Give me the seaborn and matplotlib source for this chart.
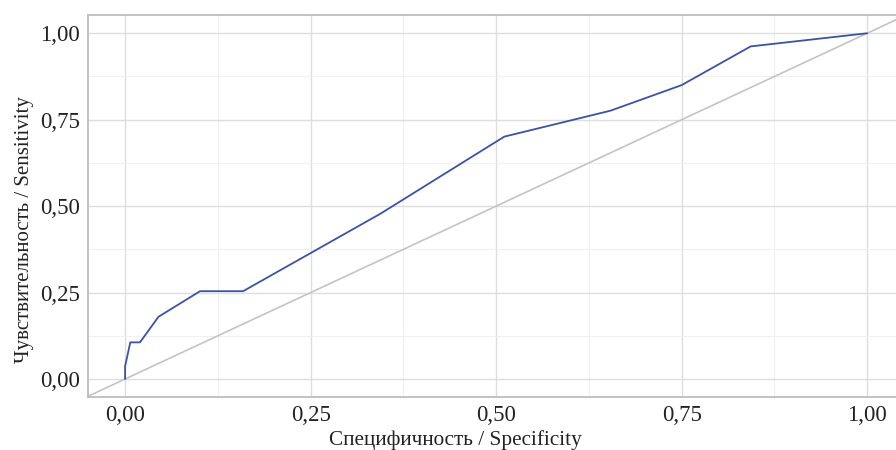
#ROC curve redrawn from the reference picture
import numpy as np
import pandas as pd
import matplotlib
matplotlib.use("Agg")
import matplotlib.pyplot as plt
import seaborn as sns

#Values (1 - specificity on x, sensitivity on y)
fpr = [0.0, 0.0, 0.007, 0.020, 0.045, 0.101, 0.159, 0.344, 0.511, 0.654, 0.750, 0.843, 1.0]
tpr = [0.0, 0.037, 0.106, 0.106, 0.180, 0.254, 0.254, 0.478, 0.701, 0.776, 0.850, 0.962, 1.0]
ticks = [0.0, 0.25, 0.5, 0.75, 1.0]
tick_labels = ["0,00", "0,25", "0,50", "0,75", "1,00"]

df = pd.DataFrame({"fpr": fpr, "tpr": tpr})

sns.set_style("white")
plt.rcParams['font.family'] = ['Liberation Serif', 'DejaVu Serif']

fig = plt.figure(figsize=(8.96, 4.5), dpi=100)
ax = fig.add_axes([0.0982, 0.1178, 0.911, 0.849])

#grid: major and minor
ax.set_xticks(ticks)
ax.set_yticks(ticks)
ax.set_xticks([0.125, 0.375, 0.625, 0.875], minor=True)
ax.set_yticks([0.125, 0.375, 0.625, 0.875], minor=True)
ax.grid(which="major", color="#dedede", linewidth=1.0)
ax.grid(which="minor", color="#f0f0f0", linewidth=0.8)
ax.set_axisbelow(True)

#diagonal reference
ax.axline((0, 0), (1, 1), color="#c4c4c4", linewidth=1.2, zorder=2)

sns.lineplot(data=df, x="fpr", y="tpr", sort=False, estimator=None,
             color="#3a53a8", linewidth=1.3, ax=ax, zorder=3)

ax.set_xlim(-0.05, 1.05)
ax.set_ylim(-0.052, 1.053)
ax.set_xticklabels(tick_labels)
ax.set_yticklabels(tick_labels)
ax.tick_params(which="major", length=4, color="#bdbdbd", labelsize=16.5, labelcolor="#222222", pad=2)
ax.tick_params(which="minor", length=0)

for side in ["left", "bottom", "top", "right"]:
    ax.spines[side].set_color("#bdbdbd")
    ax.spines[side].set_linewidth(1.3)

ax.set_xlabel("Специфичность / Specificity", fontsize=15.3, color="#222222")
ax.set_ylabel("Чувствительность / Sensitivity", fontsize=15, color="#222222")
ax.xaxis.set_label_coords(0.45, -0.086)
ax.yaxis.set_label_coords(-0.066, 0.437)

fig.savefig("out.png", dpi=100)
